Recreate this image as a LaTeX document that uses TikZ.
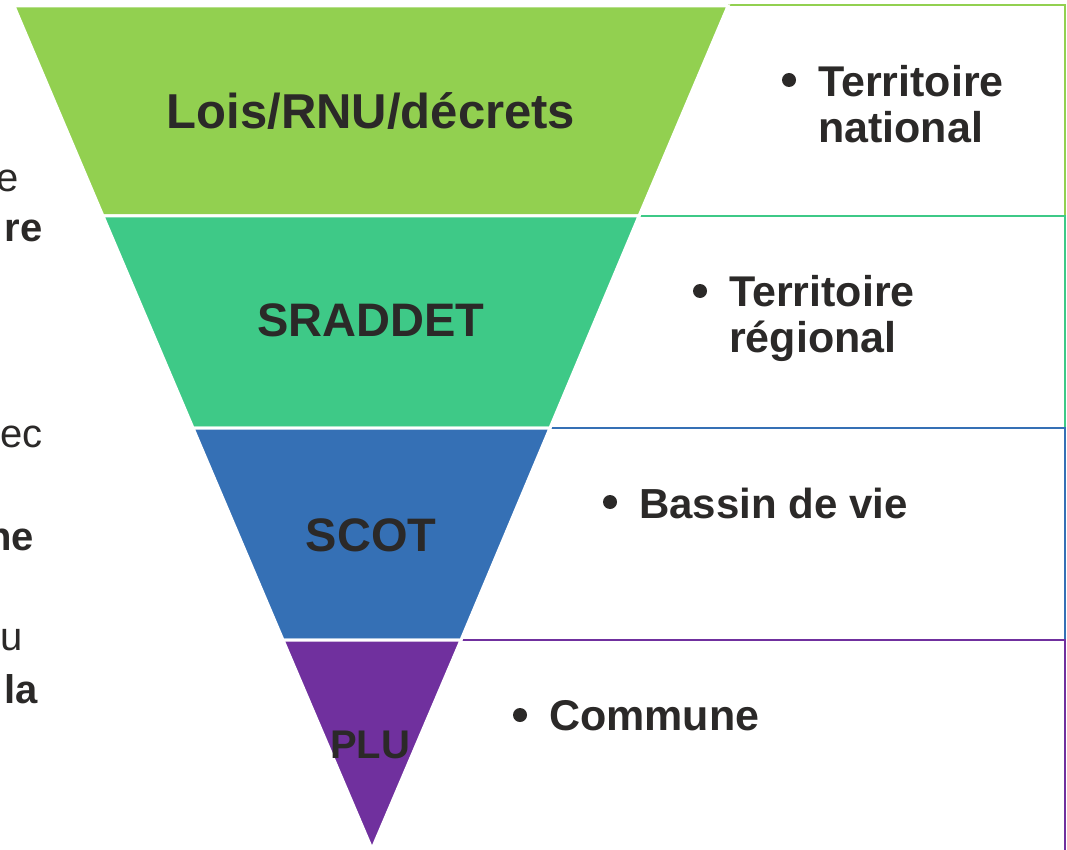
\documentclass[tikz,border=0pt]{standalone}
\usepackage{fontspec}
\setmainfont{Liberation Sans}
\definecolor{cA}{RGB}{146,208,80}
\definecolor{cB}{RGB}{62,201,135}
\definecolor{cC}{RGB}{53,112,181}
\definecolor{cD}{RGB}{112,48,158}
\definecolor{txt}{RGB}{43,41,40}
\tikzset{
  band/.style={draw=white,line width=3pt,line join=miter},
  boxline/.style={line width=2.5pt},
  big/.style={text=txt,font=\bfseries\fontsize{47}{52}\selectfont,inner sep=0pt},
  side/.style={text=txt,font=\bfseries\fontsize{43}{48}\selectfont,inner sep=0pt,anchor=base west},
  dot/.style={circle,fill=txt,minimum size=14pt,inner sep=0pt},
  frag/.style={text=txt,font=\fontsize{40}{46}\selectfont,inner sep=0pt,anchor=base east},
  fragb/.style={text=txt,font=\bfseries\fontsize{40}{46}\selectfont,inner sep=0pt,anchor=base east}
}
\begin{document}
\begin{tikzpicture}[x=1pt,y=-1pt]
\useasboundingbox (0,0) rectangle (1067,850);
% right boxes
\draw[boxline,cA] (728,5) -- (1065,5) -- (1065,216);
\draw[boxline,cB] (639,216) -- (1065,216) -- (1065,428);
\draw[boxline,cC] (550,428) -- (1065,428) -- (1065,640);
\draw[boxline,cD] (461,640) -- (1065,640) -- (1065,852);
% bands
\filldraw[band,fill=cA] (14,6) -- (728,6) -- (639,216) -- (103,216) -- cycle;
\filldraw[band,fill=cB] (103,216) -- (639,216) -- (550,428) -- (193,428) -- cycle;
\filldraw[band,fill=cC] (193,428) -- (550,428) -- (461,640) -- (283,640) -- cycle;
\filldraw[band,fill=cD] (283,640) -- (461,640) -- (372,849) -- cycle;
% band labels
\node[big,font=\bfseries\fontsize{49}{54}\selectfont] (lois) at (371,111) {Lois/RNU/décrets};
\node[big] (sraddet) at (371,320) {SRADDET};
\node[big] (scot) at (371,535) {SCOT};
\node[big,font=\bfseries\fontsize{40}{46}\selectfont] (plu) at (370,745) {PLU};
% side labels
\node[dot] (b1) at (789,80) {};
\node[side] (t1) at (818,97) {Territoire};
\node[side] (t1b) at (818,143) {national};
\node[dot] (b2) at (700,291) {};
\node[side] (t2) at (729,306) {Territoire};
\node[side] (t2b) at (729,352) {régional};
\node[dot] (b3) at (610,502) {};
\node[side,font=\bfseries\fontsize{42}{48}\selectfont] (t3) at (639,518) {Bassin de vie};
\node[dot] (b4) at (520,715) {};
\node[side] (t4) at (549,730) {Commune};
% cut-off fragments on the left
\node[frag] (f1) at (19,192) {e};
\node[fragb] (f2) at (43,241) {re};
\node[frag] (f3) at (43,447) {ec};
\node[fragb] (f4) at (34,550) {ne};
\node[frag] (f5) at (23,650) {u};
\node[fragb] (f6) at (38,703) {la};
\end{tikzpicture}
\end{document}
